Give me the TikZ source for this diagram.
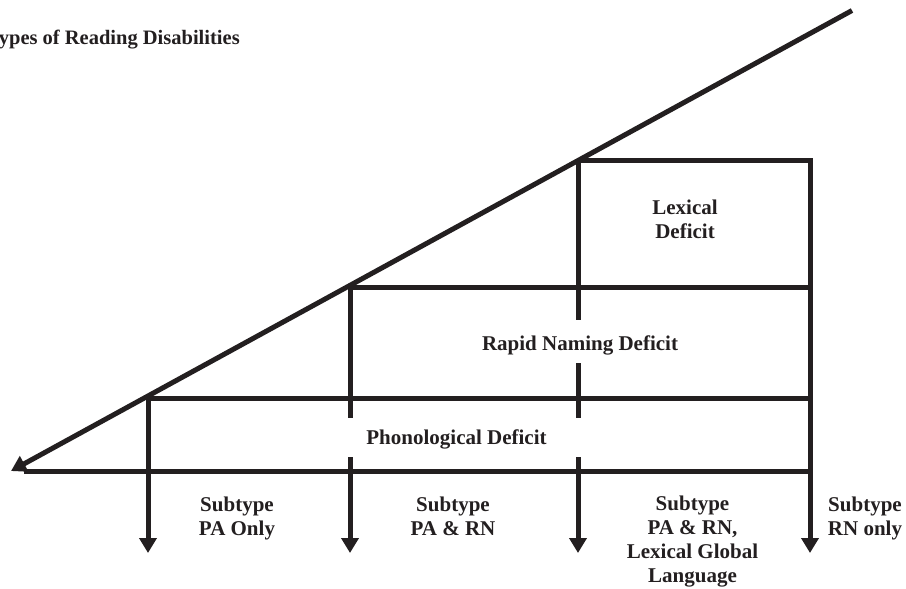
\documentclass[tikz,border=0pt]{standalone}
\usepackage{fontspec}
\setmainfont{Liberation Serif}
\usetikzlibrary{arrows.meta}
\definecolor{ink}{HTML}{231F20}
\begin{document}
\begin{tikzpicture}[x=1pt,y=-1pt,
  ln/.style={draw=ink,line width=5pt},
  arr/.style={ln,-{Triangle[width=17pt,length=15pt]}},
  lbl/.style={text=ink,font=\fontsize{21}{24}\selectfont\bfseries,align=center,inner sep=0pt,anchor=base}]
\useasboundingbox (0,0) rectangle (906,589);
% key points
\coordinate (top) at (852,10.5);
\coordinate (tip) at (11,471);
\coordinate (d1) at (148,395.4);
\coordinate (d2) at (350,284.8);
\coordinate (d3) at (578,160);
\coordinate (c3) at (810,160);
\coordinate (e2) at (810,287);
\coordinate (s2) at (350,287);
\coordinate (e1) at (810,398);
\coordinate (s1) at (148,398);
\coordinate (b0) at (24,471);
\coordinate (b4) at (810,471);
\coordinate (a1) at (148,553);
\coordinate (a2) at (350,553);
\coordinate (a3) at (578,553);
\coordinate (a4) at (810,553);
\coordinate (g2a) at (350,418);
\coordinate (g2b) at (350,457);
\coordinate (g3a) at (578,320);
\coordinate (g3b) at (578,363);
\coordinate (g3c) at (578,418);
\coordinate (g3d) at (578,457);
% lines
\draw[arr] (top) -- (tip);
\draw[ln] (b4) -- (b0);
\draw[ln] (s1) -- (e1);
\draw[ln] (s2) -- (e2);
\draw[arr,line join=miter] (d3) -- (c3) -- (a4);
\draw[arr] (d1) -- (a1);
\draw[ln] (d2) -- (g2a);
\draw[arr] (g2b) -- (a2);
\draw[ln] (d3) -- (g3a);
\draw[ln] (g3b) -- (g3c);
\draw[arr] (g3d) -- (a3);
% labels (anchor base = baseline of the last line)
\node[lbl,anchor=base west,font=\fontsize{20.5}{24}\selectfont\bfseries] (title) at (-13.5,44) {Types of Reading Disabilities};
\node[lbl] (lex) at (685,238) {Lexical\\Deficit};
\node[lbl] (rn) at (580,350) {Rapid Naming Deficit};
\node[lbl] (ph) at (456.5,444) {Phonological Deficit};
\node[lbl] (st1) at (237,535) {Subtype\\PA Only};
\node[lbl] (st2) at (453,535) {Subtype\\PA \& RN};
\node[lbl] (st3) at (692.5,582) {Subtype\\PA \& RN,\\Lexical Global\\Language};
\node[lbl] (st4) at (865,535) {Subtype\\RN only};
\end{tikzpicture}
\end{document}
